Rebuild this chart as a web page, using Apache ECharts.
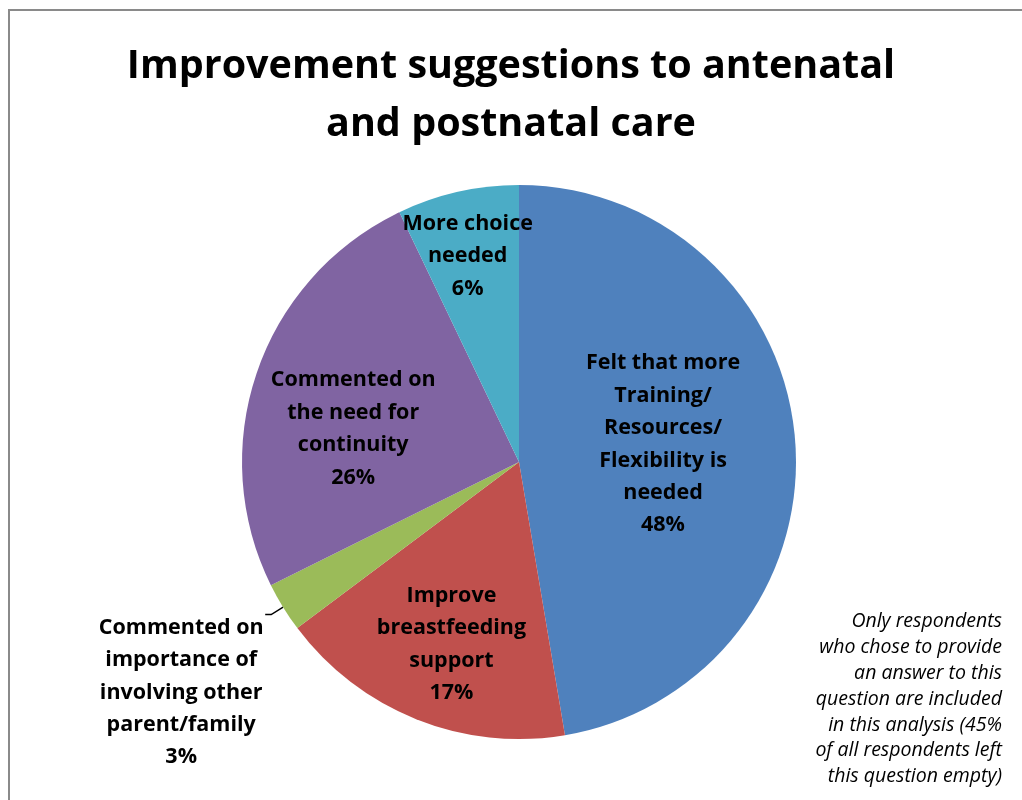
<!DOCTYPE html>
<html>
<head>
<meta charset="utf-8">
<script src="https://cdn.jsdelivr.net/npm/echarts@6/dist/echarts.min.js"></script>
<style>
html,body{margin:0;padding:0;background:#fff;}
#chart{width:1022px;height:800px;}
</style>
</head>
<body>
<div id="chart"></div>
<script>
const categories = [
  'Felt that more\nTraining/\nResources/\nFlexibility is\nneeded',
  'Improve\nbreastfeeding\nsupport',
  'Commented on\nimportance of\ninvolving other\nparent/family',
  'Commented on\nthe need for\ncontinuity',
  'More choice\nneeded'
];
const values = [47.3, 17.4, 2.9, 25.2, 7.1];
const percentLabels = ['48%', '17%', '3%', '26%', '6%'];
const colors = ['#4F81BD', '#C0504D', '#9BBB59', '#8064A2', '#4BACC6'];
const titleText = 'Improvement suggestions to antenatal\nand postnatal care';
const noteText = 'Only respondents\nwho chose to provide\nan answer to this\nquestion are included\nin this analysis (45%\nof all respondents left\nthis question empty)';

const labelShift = [[3, -6], [-15, 51], [-79, 78], [-32, 13], [-20, -68]];

const FONT = '"Open Sans"';
const chart = echarts.init(document.getElementById('chart'), null, {renderer: 'canvas'});
chart.setOption({
  animation: false,
  backgroundColor: '#fff',
  color: colors,
  title: [{
    text: titleText,
    left: 'center',
    top: 33,
    textStyle: {fontFamily: FONT, fontWeight: 'bold', fontSize: 39.5, lineHeight: 58, color: '#000'}
  }, {
    text: noteText,
    left: 997,
    top: 604,
    textAlign: 'right',
    textStyle: {fontFamily: FONT, fontStyle: 'italic', fontWeight: 'normal', fontSize: 19.5, lineHeight: 25.8, color: '#000'}
  }],
  graphic: [
    {type: 'rect', shape: {x: 9, y: 10, width: 1100, height: 900}, style: {fill: 'none', stroke: '#8a8a8a', lineWidth: 2}, silent: true}
  ],
  series: [{
    type: 'pie',
    center: [519, 462],
    radius: 277,
    startAngle: 90,
    clockwise: true,
    avoidLabelOverlap: false,
    itemStyle: {borderWidth: 0},
    emphasis: {disabled: true},
    label: {
      position: 'inside',
      fontFamily: FONT, fontWeight: 'bold', fontSize: 21.5, lineHeight: 32.4, color: '#000',
      align: 'center',
      formatter: p => p.name + '\n' + percentLabels[p.dataIndex]
    },
    labelLine: {show: false},
    labelLayout: function (p) {
      const s = labelShift[p.dataIndex];
      const o = {dx: s[0], dy: s[1]};
      if (p.dataIndex === 2) o.align = 'center';
      return o;
    },
    data: categories.map((c, i) => {
      const d = {name: c, value: values[i]};
      if (i === 2) {
        d.label = {position: 'outside'};
        d.labelLine = {show: true, length: 14, length2: 6, lineStyle: {color: '#000', width: 1.5}};
      }
      return d;
    })
  }]
});
</script>
</body>
</html>
